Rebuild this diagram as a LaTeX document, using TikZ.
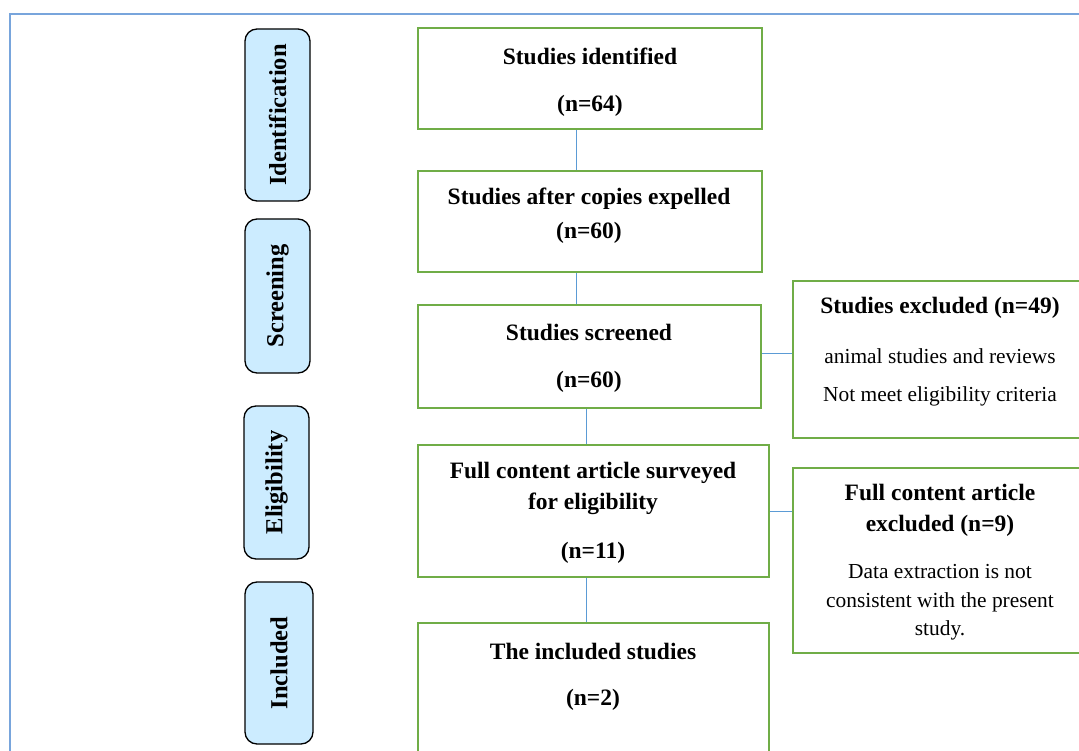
\documentclass[tikz,border=0pt]{standalone}
\usepackage{fontspec}
\setmainfont{Liberation Serif}
\usepackage{tikz}

\definecolor{boxgreen}{RGB}{112,173,71}
\definecolor{linkblue}{RGB}{91,155,213}
\definecolor{framblue}{RGB}{120,165,220}
\definecolor{stagefill}{RGB}{204,236,255}

\tikzset{
	stepbox/.style={draw=boxgreen,line width=2pt,shape=rectangle,inner sep=0pt},
	stage/.style={draw=black,fill=stagefill,line width=1.3pt,rounded corners=12pt,rotate=90,inner sep=0pt,minimum height=65pt,font=\fontsize{24.5}{29}\selectfont\bfseries},
	head/.style={font=\fontsize{23.5}{31}\selectfont\bfseries,inner sep=0pt},
	note/.style={font=\fontsize{21.4}{28.5}\selectfont,inner sep=0pt},
	link/.style={draw=linkblue,line width=1pt}
}

\begin{document}
\begin{tikzpicture}[x=1pt,y=-1pt]
	\useasboundingbox (0,0) rectangle (1079,751);
	\clip (0,0) rectangle (1079,751);
	\draw[framblue,line width=1.5pt] (10,800) -- (10,14) -- (1100,14);

	\draw (277.5,115) node (ident) [stage,minimum width=172pt] {Identification};
	\draw (277.5,296) node (screen) [stage,minimum width=154pt] {Screening};
	\draw (276.5,482.5) node (elig) [stage,minimum width=153pt] {Eligibility};
	\draw (279,663) node (incl) [stage,minimum width=162pt,minimum height=68pt] {Included};

	\draw (590,78.5) node (found) [stepbox,minimum width=344pt,minimum height=101pt] {};
	\draw (590,221.5) node (dedup) [stepbox,minimum width=344pt,minimum height=101pt] {};
	\draw (589.5,356.5) node (screened) [stepbox,minimum width=343pt,minimum height=103pt] {};
	\draw (593.5,511) node (fulltext) [stepbox,minimum width=351pt,minimum height=132pt] {};
	\draw (593.5,712) node (final) [stepbox,minimum width=351pt,minimum height=178pt] {};
	\draw (950,359.5) node (outA) [stepbox,minimum width=314pt,minimum height=157pt] {};
	\draw (950,560) node (outB) [stepbox,minimum width=314pt,minimum height=185pt] {};

	\node (foundT) [head] at (590,56) {Studies identified};
	\node (foundN) [head] at (590,106) {(n=64)};
	\node (dedupT) [head] at (589,199) {Studies after copies expelled};
	\node (dedupN) [head] at (589,233) {(n=60)};
	\node (screenedT) [head] at (589,332) {Studies screened};
	\node (screenedN) [head] at (589,382) {(n=60)};
	\node (fulltextT) [head,align=center] at (593,488.5) {Full content article surveyed\\for eligibility};
	\node (fulltextN) [head] at (593,553) {(n=11)};
	\node (finalT) [head] at (593,651) {The included studies};
	\node (finalN) [head] at (593,700) {(n=2)};
	\node (outAT) [head] at (940,308) {Studies excluded (n=49)};
	\node (outAa) [note] at (940,356) {animal studies and reviews};
	\node (outAb) [note] at (940,396) {Not meet eligibility criteria};
	\node (outBT) [head,align=center] at (940,510) {Full content article\\excluded (n=9)};
	\node (outBa) [note,align=center] at (940,602.5) {Data extraction is not\\consistent with the present\\study.};

	\draw[link] ([xshift=-14pt]found.south) -- ([xshift=-14pt]dedup.north);
	\draw[link] ([xshift=-14pt]dedup.south) -- ([xshift=-13.5pt]screened.north);
	\draw[link] ([xshift=-3.5pt]screened.south) -- ([xshift=-7.5pt]fulltext.north);
	\draw[link] ([xshift=-7.5pt]fulltext.south) -- ([xshift=-7.5pt]final.north);
	\draw[link] ([yshift=3.5pt]screened.east) -- ([yshift=3.5pt]screened.east -| outA.west);
	\draw[link] (fulltext.east) -- (fulltext.east -| outB.west);
\end{tikzpicture}
\end{document}
